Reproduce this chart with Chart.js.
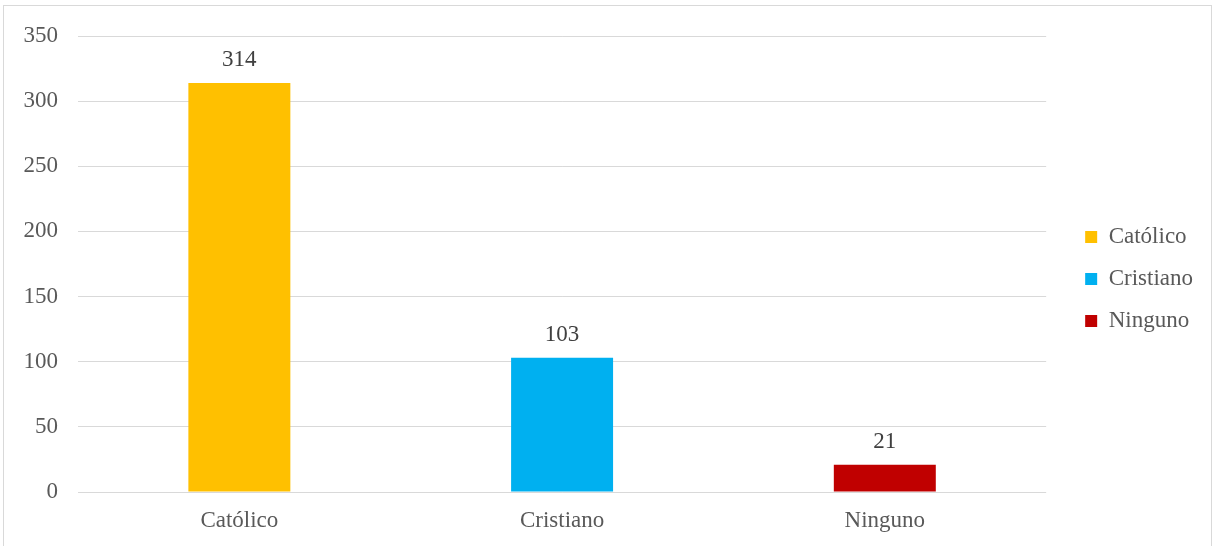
<!DOCTYPE html>
<html>
<head>
<meta charset="utf-8">
<script src="https://cdn.jsdelivr.net/npm/chart.js@4"></script>
<style>
  html, body { margin: 0; padding: 0; background: #fff; }
  #wrap { position: relative; width: 1215px; height: 546px; overflow: hidden; }
  #frame { position: absolute; left: 3px; top: 5px; width: 1209px; height: 600px; border: 1px solid #D9D9D9; box-sizing: border-box; }
  #c { position: absolute; left: 0; top: 0; }
</style>
</head>
<body>
<div id="wrap">
  <div id="frame"></div>
  <canvas id="c" width="1215" height="546"></canvas>
</div>
<script>
const categories = ['Católico', 'Cristiano', 'Ninguno'];
const counts = [314, 103, 21];
const barColors = ['#FFC000', '#00B0F0', '#C00000'];
const yTicks = [0, 50, 100, 150, 200, 250, 300, 350];

const FONT = "'Liberation Serif', 'Times New Roman', serif";
const FONT_SIZE = 23;
const TEXT_COLOR = '#595959';

// Value labels above each bar
const valueLabels = {
  id: 'valueLabels',
  afterDatasetsDraw(chart) {
    const ctx = chart.ctx;
    const meta = chart.getDatasetMeta(0);
    ctx.save();
    ctx.font = FONT_SIZE + 'px ' + FONT;
    ctx.fillStyle = '#404040';
    ctx.textAlign = 'center';
    ctx.textBaseline = 'middle';
    meta.data.forEach((bar, i) => {
      ctx.fillText(String(chart.data.datasets[0].data[i]), bar.x, bar.y - 23);
    });
    ctx.restore();
  }
};

// Empty spacer axes: keep room above the plot and between plot and legend
const spacer = (position, size) => ({
  position,
  display: true,
  grid: { display: false, drawTicks: false },
  border: { display: false },
  ticks: { display: false },
  afterFit(scale) {
    if (position === 'top' || position === 'bottom') scale.height = size;
    else scale.width = size;
  }
});

new Chart(document.getElementById('c'), {
  type: 'bar',
  data: {
    labels: categories,
    datasets: [{
      data: counts,
      backgroundColor: barColors,
      borderWidth: 0,
      categoryPercentage: 1,
      barPercentage: 0.316
    }]
  },
  options: {
    responsive: false,
    animation: false,
    events: [],
    layout: { padding: { top: 12, right: 12, bottom: 0, left: 0 } },
    scales: {
      x: {
        afterFit(scale) { scale.height = 54; },
        grid: { display: false, drawTicks: false },
        border: { display: false },
        ticks: { color: TEXT_COLOR, font: { family: FONT, size: FONT_SIZE }, padding: 15 }
      },
      y: {
        min: 0,
        max: 350,
        afterFit(scale) { scale.width = 78; },
        afterBuildTicks(scale) { scale.ticks = yTicks.map(v => ({ value: v })); },
        grid: { color: '#D9D9D9', lineWidth: 1, drawTicks: false },
        border: { display: false },
        ticks: { color: TEXT_COLOR, font: { family: FONT, size: FONT_SIZE }, padding: 20 }
      },
      topGap: Object.assign({ axis: 'x', type: 'category' }, spacer('top', 24)),
      rightGap: Object.assign({ axis: 'y', type: 'linear' }, spacer('right', 20))
    },
    plugins: {
      tooltip: { enabled: false },
      legend: {
        position: 'right',
        labels: {
          color: TEXT_COLOR,
          font: { family: FONT, size: FONT_SIZE },
          boxWidth: 12,
          boxHeight: 12,
          padding: 19,
          generateLabels(chart) {
            return chart.data.labels.map((label, i) => ({
              text: label,
              fillStyle: barColors[i],
              strokeStyle: barColors[i],
              fontColor: TEXT_COLOR,
              lineWidth: 0,
              hidden: false,
              index: i
            }));
          }
        }
      }
    }
  },
  plugins: [valueLabels]
});
</script>
</body>
</html>
